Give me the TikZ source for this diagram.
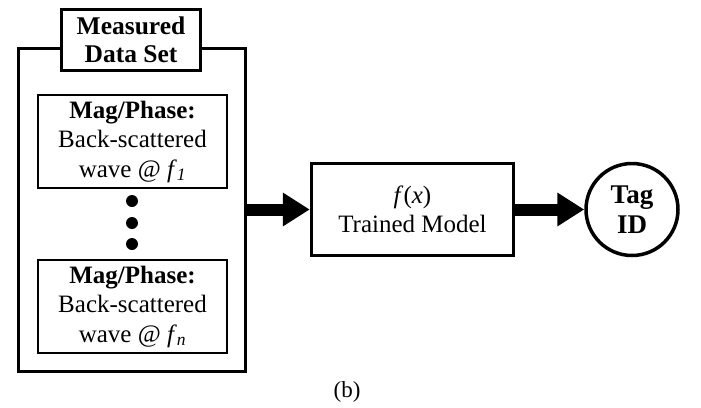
\documentclass[tikz,border=0pt]{standalone}
\usepackage{fontspec}
\setmainfont{Liberation Serif}
\usetikzlibrary{arrows.meta}
\tikzset{
  thickbox/.style={draw, line width=3.5pt, fill=white, inner sep=0pt, align=center},
  thinbox/.style={draw, line width=2.5pt, fill=white, inner sep=0pt, align=center},
  bigarrow/.style={line width=12pt, -{Triangle[length=27pt,width=32pt]}},
  txt/.style={font=\fontsize{25}{29.5}\selectfont},
  ttl/.style={font=\fontsize{25.5}{28}\selectfont\bfseries},
  dotstyle/.style={circle, fill=black, inner sep=0pt, minimum size=12pt}
}
\begin{document}
\begin{tikzpicture}[x=1pt,y=-1pt]
\useasboundingbox (0,0) rectangle (701,407);
\node[thickbox, minimum width=227pt, minimum height=323pt] (outer) at (132,210) {};
\node[thickbox, ttl, minimum width=139pt, minimum height=61pt] (title) at (131,40) {Measured\\Data Set};
\node[thinbox, txt, minimum width=189pt, minimum height=93pt] (m1) at (132.5,141.5) {\textbf{Mag/Phase:}\\Back-scattered\\wave @ \textit{f}\textsubscript{\textit{1}}};
\node[thinbox, txt, minimum width=189pt, minimum height=93pt] (m2) at (132.5,306.5) {\textbf{Mag/Phase:}\\Back-scattered\\wave @ \textit{f}\textsubscript{\textit{n}}};
\node[dotstyle] (d1) at (132,201) {};
\node[dotstyle] (d2) at (132,223) {};
\node[dotstyle] (d3) at (132,244) {};
\node[thickbox, txt, minimum width=202pt, minimum height=92pt] (model) at (412.5,209.5) {\textit{f}(\textit{x})\\Trained Model};
\node[draw, circle, line width=3.5pt, fill=white, inner sep=0pt, minimum size=92pt, align=center, font=\fontsize{27}{30}\selectfont\bfseries] (tag) at (632,209.5) {Tag\\ID};
\node[font=\fontsize{23}{26}\selectfont] (cap) at (347,392) {(b)};
\draw[bigarrow] (outer.east |- model.west) -- (model.west);
\draw[bigarrow] (model.east) -- (tag.west);
\end{tikzpicture}
\end{document}
